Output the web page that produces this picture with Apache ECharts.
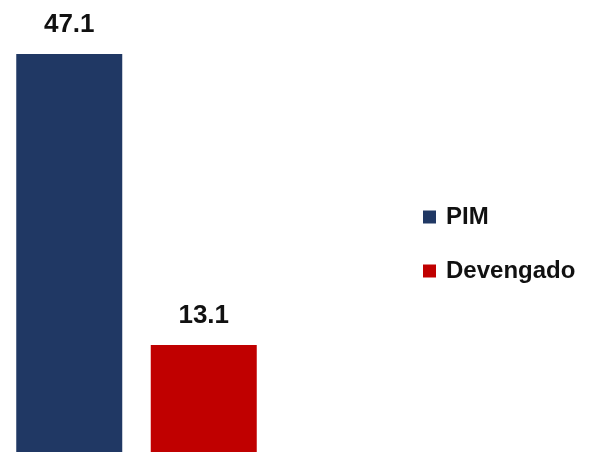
<!DOCTYPE html>
<html>
<head>
<meta charset="utf-8">
<script src="https://cdn.jsdelivr.net/npm/echarts@6/dist/echarts.min.js"></script>
<style>
  html, body { margin: 0; padding: 0; background: #fff; }
  #chart { width: 594px; height: 452px; }
</style>
</head>
<body>
<div id="chart"></div>
<script>
var categories = ['PIM', 'Devengado'];
var pimValues = [47.1, '-'];
var devengadoValues = ['-', 13.1];

function chartInit(wrapper){
  var myChart = echarts.init(wrapper);
  var labelStyle = {
    show: true,
    position: 'top',
    distance: 16,
    fontFamily: 'Liberation Sans',
    fontWeight: 'bold',
    fontSize: 26,
    color: '#111',
    formatter: function(p){ return p.value.toFixed(1); }
  };
  var option = {
    animation: false,
    grid: {
      left: 2,
      width: 269,
      top: 54,
      bottom: 0
    },
    legend: {
      orient: 'vertical',
      left: 418,
      top: 200,
      icon: 'rect',
      itemWidth: 13,
      itemHeight: 13,
      itemGap: 30,
      data: categories,
      textStyle: {
        fontFamily: 'Liberation Sans',
        fontWeight: 'bold',
        fontSize: 24,
        color: '#111',
        padding: [0, 0, 0, 5]
      }
    },
    xAxis: {
      type: 'category',
      data: categories,
      show: false
    },
    yAxis: {
      type: 'value',
      // baseline sits a few px below the picture's bottom edge
      min: 0.6,
      max: 47.1,
      show: false
    },
    series: [
      {
        name: 'PIM',
        type: 'bar',
        stack: 'one',
        barWidth: 106,
        itemStyle: { color: '#203864' },
        label: labelStyle,
        data: pimValues
      },
      {
        name: 'Devengado',
        type: 'bar',
        stack: 'one',
        barWidth: 106,
        itemStyle: { color: '#C00000' },
        label: labelStyle,
        data: devengadoValues
      }
    ]
  };
  myChart.setOption(option);
}
chartInit(document.getElementById('chart'));
</script>
</body>
</html>
